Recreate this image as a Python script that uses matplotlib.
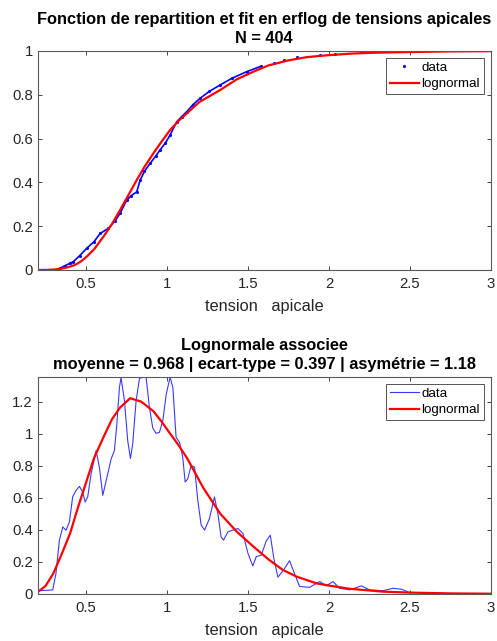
import numpy as np
import matplotlib.pyplot as plt

plt.rcParams['font.family'] = ['Liberation Sans', 'DejaVu Sans']

# --- fonction de repartition
cdf_x = [0.339, 0.37, 0.40, 0.421, 0.46, 0.504, 0.55, 0.587, 0.638, 0.68,
         0.71, 0.752, 0.78, 0.813, 0.834, 0.86, 0.896, 0.93, 0.957, 0.99,
         1.019, 1.06, 1.09, 1.122, 1.16, 1.205, 1.26, 1.329, 1.40, 1.494,
         1.58, 1.658, 1.72, 1.803, 1.947, 2.04, 2.2, 2.45]
cdf_y = [0.008, 0.02, 0.03, 0.038, 0.065, 0.099, 0.13, 0.167, 0.19, 0.225,
         0.259, 0.32, 0.34, 0.357, 0.41, 0.45, 0.487, 0.52, 0.548, 0.58,
         0.616, 0.677, 0.70, 0.723, 0.755, 0.784, 0.815, 0.845, 0.875, 0.906,
         0.93, 0.947, 0.96, 0.974, 0.982, 0.986, 0.993, 0.998]

fit_cdf_x = [0.2, 0.25, 0.3, 0.339, 0.39, 0.432, 0.47, 0.504, 0.55, 0.607,
             0.66, 0.71, 0.76, 0.813, 0.86, 0.916, 0.97, 1.019, 1.07, 1.122,
             1.2, 1.329, 1.43, 1.535, 1.627, 1.75, 1.865, 2.0, 2.14, 2.28,
             2.5, 2.75, 3.0]
fit_cdf_y = [0.0, 0.0002, 0.002, 0.005, 0.013, 0.023, 0.04, 0.061, 0.095, 0.152,
             0.21, 0.274, 0.34, 0.411, 0.47, 0.533, 0.59, 0.639, 0.68, 0.715,
             0.767, 0.822, 0.87, 0.906, 0.934, 0.957, 0.972, 0.981, 0.988, 0.992,
             0.995, 0.998, 0.999]

# --- densite
pdf_x = [0.2, 0.25, 0.294, 0.314, 0.335, 0.356, 0.376, 0.397, 0.417, 0.438,
         0.459, 0.479, 0.494, 0.51, 0.531, 0.562, 0.582, 0.603, 0.634, 0.655,
         0.675, 0.69, 0.706, 0.716, 0.737, 0.757, 0.774, 0.788, 0.809, 0.83,
         0.86, 0.871, 0.891, 0.912, 0.932, 0.953, 0.974, 0.995, 1.019, 1.036,
         1.056, 1.077, 1.097, 1.112, 1.128, 1.149, 1.17, 1.19, 1.211, 1.232,
         1.262, 1.293, 1.314, 1.334, 1.349, 1.376, 1.407, 1.438, 1.469, 1.5,
         1.53, 1.551, 1.582, 1.613, 1.638, 1.66, 1.685, 1.72, 1.757, 1.79,
         1.819, 1.881, 1.943, 1.984, 2.025, 2.066, 2.128, 2.2, 2.252, 2.334,
         2.396, 2.448, 2.5]
pdf_y = [0.02, 0.022, 0.025, 0.128, 0.335, 0.418, 0.397, 0.449, 0.605, 0.646,
         0.671, 0.636, 0.573, 0.605, 0.75, 0.894, 0.791, 0.615, 0.75, 0.843,
         0.894, 1.06, 1.288, 1.35, 1.205, 0.957, 0.845, 0.936, 1.205, 1.346,
         1.352, 1.35, 1.164, 1.035, 1.002, 1.008, 1.081, 1.246, 1.352, 1.288,
         0.977, 0.946, 0.853, 0.698, 0.718, 0.801, 0.791, 0.584, 0.429, 0.398,
         0.47, 0.605, 0.501, 0.356, 0.335, 0.387, 0.398, 0.408, 0.377, 0.253,
         0.174, 0.232, 0.242, 0.33, 0.366, 0.22, 0.104, 0.15, 0.207, 0.12,
         0.046, 0.041, 0.077, 0.05, 0.077, 0.035, 0.025, 0.05, 0.025, 0.02,
         0.035, 0.029, 0.008]

fit_pdf_x = [0.2, 0.25, 0.298, 0.35, 0.401, 0.45, 0.504, 0.55, 0.607, 0.66,
             0.71, 0.772, 0.84, 0.916, 0.97, 1.019, 1.07, 1.122, 1.225, 1.329,
             1.432, 1.535, 1.627, 1.716, 1.8, 1.922, 2.0, 2.128, 2.334, 2.5,
             2.75, 3.0]
fit_pdf_y = [0.01, 0.05, 0.128, 0.25, 0.377, 0.54, 0.708, 0.85, 0.977, 1.09,
             1.163, 1.221, 1.2, 1.14, 1.07, 1.0, 0.93, 0.85, 0.66, 0.5,
             0.387, 0.294, 0.215, 0.149, 0.108, 0.066, 0.052, 0.032, 0.014, 0.008,
             0.003, 0.001]

xticks = [0.5, 1, 1.5, 2, 2.5, 3]
xtick_labels = ['0.5', '1', '1.5', '2', '2.5', '3']

ax_col = '#262626'


def style(ax, yticks, ylabels, ymax):
    ax.set_xlim(0.2, 3)
    ax.set_ylim(0, ymax)
    ax.set_xticks(xticks)
    ax.set_xticklabels(xtick_labels)
    ax.set_yticks(yticks)
    ax.set_yticklabels(ylabels)
    ax.tick_params(direction='in', length=3, width=0.6, colors=ax_col,
                   labelsize=10.7, top=True, right=True)
    ax.tick_params(axis='x', pad=5)
    ax.tick_params(axis='y', pad=3.5)
    for s in ax.spines.values():
        s.set_color('#5a5a5a')
        s.set_linewidth(0.8)
    ax.set_xlabel('tension   apicale', fontsize=11.8, color=ax_col, labelpad=6)
    leg = ax.legend(loc='upper right', fontsize=9.6, fancybox=False,
                    framealpha=1, edgecolor='#3a3a3a', borderpad=0.3,
                    labelspacing=0.3, handlelength=2.2, handletextpad=0.2,
                    borderaxespad=0.5)
    leg.get_frame().set_linewidth(0.6)


fig = plt.figure(figsize=(4.97, 6.41), dpi=100)
ax1 = fig.add_axes([0.0755, 0.5788, 0.912, 0.3417])
ax2 = fig.add_axes([0.0755, 0.0735, 0.912, 0.3385])

# haut: repartition
ax1.plot(cdf_x[:31], cdf_y[:31], color='blue', lw=1.2)
ax1.plot(cdf_x, cdf_y, '.', color='blue', ms=2.5, label='data')
ax1.plot(fit_cdf_x, fit_cdf_y, color='red', lw=1.6, label='lognormal')
style(ax1, [0, 0.2, 0.4, 0.6, 0.8, 1], ['0', '0.2', '0.4', '0.6', '0.8', '1'], 1)
ax1.set_title('Fonction de repartition et fit en erflog de tensions apicales\nN = 404',
              fontsize=11.8, fontweight='bold', color='black', pad=6,
              linespacing=1.3)

# bas: densite
ax2.plot(pdf_x, pdf_y, color='#3a3aff', lw=0.8, label='data')
ax2.plot(fit_pdf_x, fit_pdf_y, color='red', lw=1.6, label='lognormal')
style(ax2, [0, 0.2, 0.4, 0.6, 0.8, 1, 1.2],
      ['0', '0.2', '0.4', '0.6', '0.8', '1', '1.2'], 1.354)
ax2.set_title('Lognormale associee\nmoyenne = 0.968 | ecart-type = 0.397 | asymétrie = 1.18',
              fontsize=11.8, fontweight='bold', color='black', pad=6,
              linespacing=1.3)

fig.savefig('out.png', dpi=100)
